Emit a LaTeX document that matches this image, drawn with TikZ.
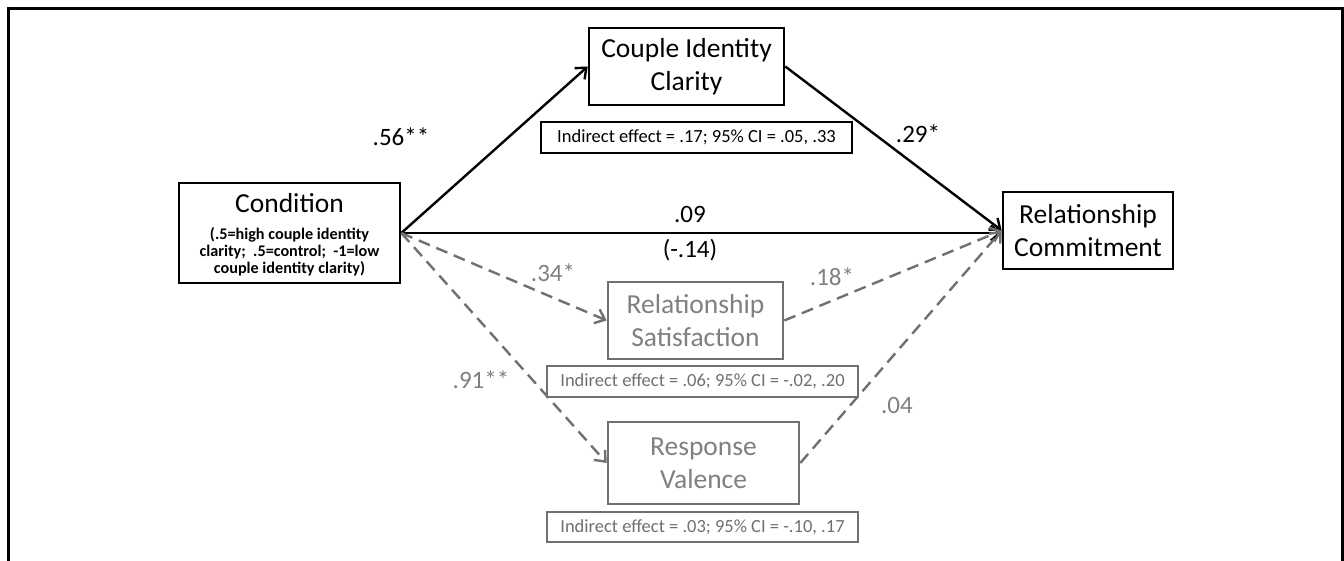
\documentclass[tikz,border=0pt]{standalone}
\usepackage{fontspec}
\setmainfont{Carlito}
\usetikzlibrary{arrows.meta}
\definecolor{gline}{RGB}{112,112,112}
\definecolor{gtext}{RGB}{128,128,128}
\begin{document}
\begin{tikzpicture}[x=1pt,y=-1pt,
  box/.style={draw=black, line width=2.6pt, fill=white, inner sep=0pt, align=center,
    font=\fontsize{27.5}{33}\selectfont},
  gbox/.style={box, draw=gline, text=gtext},
  iebox/.style={draw=black, line width=2.4pt, fill=white, inner sep=0pt, align=center,
    minimum width=311pt, minimum height=31pt, font=\fontsize{18.5}{22}\selectfont},
  giebox/.style={iebox, draw=gline, text=gline},
  lab/.style={font=\fontsize{25}{30}\selectfont, inner sep=0pt},
  glab/.style={lab, text=gtext},
  arr/.style={line width=2.4pt, -{Straight Barb[length=9pt,width=15pt]}},
  garr/.style={arr, draw=gline, dash pattern=on 12pt off 7pt}]
\useasboundingbox (0,0) rectangle (1344,561);
% frame
\draw[line width=3pt] (8,561) -- (8,9) -- (1342.5,9) -- (1342.5,561);

% nodes
\node[box, minimum width=221pt, minimum height=100pt] (cond) at (289.5,233) {};
\node[font=\fontsize{27.5}{33}\selectfont, inner sep=0pt] (condt) at (289.5,203) {Condition};
\node[font=\bfseries\fontsize{16.2}{16.8}\selectfont, align=center, inner sep=0pt] (condsub) at (289.5,252)
  {(.5=high couple identity\\clarity;\ \ .5=control;\ \ -1=low\\couple identity clarity)};

\node[box, minimum width=195pt, minimum height=77pt] (cic) at (686.5,66.5) {Couple Identity\\Clarity};
\node[box, minimum width=170pt, minimum height=77pt] (rc) at (1088,230.5) {Relationship\\Commitment};
\node[gbox, minimum width=175pt, minimum height=77pt] (rs) at (695.5,320.5) {Relationship\\Satisfaction};
\node[gbox, minimum width=191pt, minimum height=82pt] (rv) at (703.5,463) {Response\\Valence};

% connectors
\draw[arr] (cond.east) -- (cic.west);
\draw[arr] (cic.east) -- (rc.west);
\draw[arr] (cond.east) -- (cond.east -| rc.west);
\draw[garr] (cond.east) -- (rs.west);
\draw[garr] (rs.east) -- (rc.west);
\draw[garr] (cond.east) -- (rv.west);
\draw[garr] (rv.east) -- (rc.west);

% indirect effect boxes
\node[iebox] (ie1) at (696.5,137.5) {Indirect effect = .17; 95\% CI = .05, .33};
\node[giebox] (ie2) at (702.5,381.5) {Indirect effect = .06; 95\% CI = -.02, .20};
\node[giebox, minimum height=30pt] (ie3) at (702.5,527) {Indirect effect = .03; 95\% CI = -.10, .17};

% path labels
\node[lab] (l56) at (401,137) {.56**};
\node[lab] (l29) at (918,134) {.29*};
\node[lab] (l09) at (690,214) {.09};
\node[lab] (l14) at (690,250) {(-.14)};
\node[glab] (l34) at (553,273) {.34*};
\node[glab] (l18) at (832,277) {.18*};
\node[glab] (l91) at (481,380) {.91**};
\node[glab] (l04) at (897,405) {.04};
\end{tikzpicture}
\end{document}
